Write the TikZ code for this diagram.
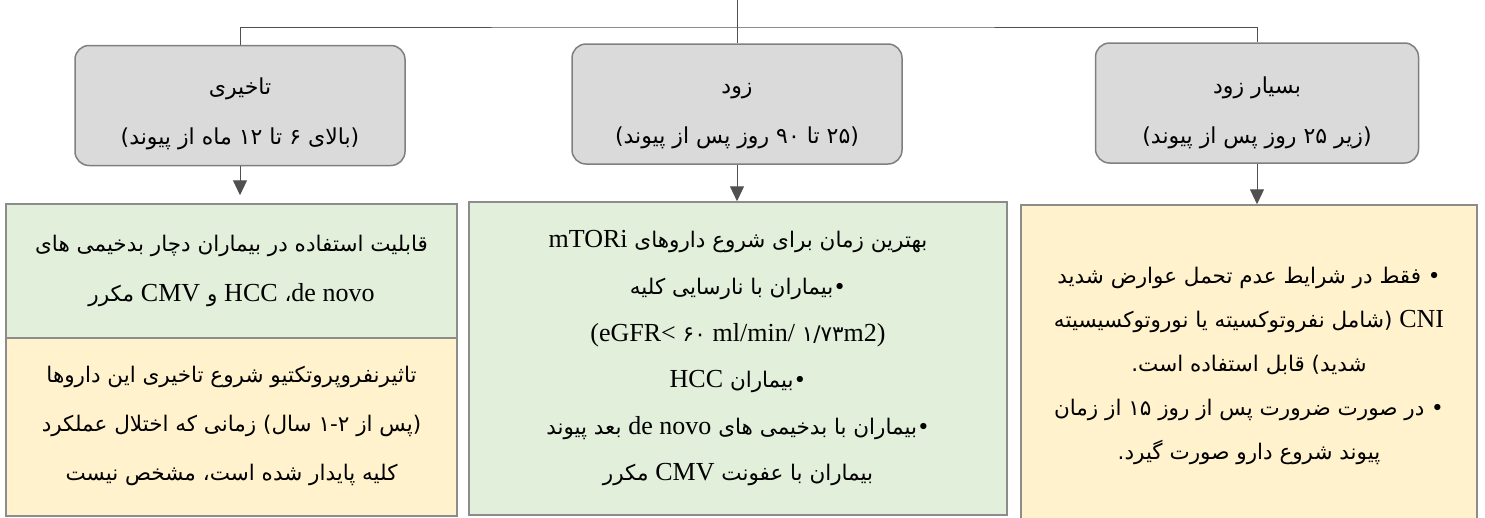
\documentclass[tikz,border=0pt]{standalone}
\usepackage{fontspec}
\setmainfont{Liberation Serif}
\newfontfamily\fa[Script=Arabic]{DejaVu Sans}
\newfontfamily\la{Liberation Serif}
\TeXXeTstate=1
\usetikzlibrary{arrows.meta}
\definecolor{grayfill}{HTML}{DADADA}
\definecolor{grayedge}{HTML}{7F7F7F}
\definecolor{greenfill}{HTML}{E2EFDA}
\definecolor{orangefill}{HTML}{FFF2CC}
\definecolor{boxedge}{HTML}{8C8C8C}
\definecolor{linecol}{HTML}{505050}
\newcommand\latsz{\la\fontsize{26}{26}\selectfont}
\newcommand\lat[1]{\beginL{\latsz #1}\endL}
\tikzset{
  phase/.style={draw=grayedge, fill=grayfill, line width=1.5pt, rounded corners=14pt,
    minimum width=330pt, minimum height=120pt},
  phasetext/.style={align=center, inner sep=0pt, font=\fa\fontsize{22}{50}\selectfont},
  infobox/.style={draw=boxedge, line width=1.5pt, align=center, inner sep=0pt},
  greenbox/.style={infobox, fill=greenfill},
  orangebox/.style={infobox, fill=orangefill},
  conn/.style={draw=linecol, line width=1pt},
  arr/.style={conn, -{Triangle[width=14pt,length=15pt]}, color=linecol},
}
\begin{document}
\begin{tikzpicture}[x=1pt,y=-1pt]
\useasboundingbox (0,0) rectangle (1485,517);
% phase boxes
\node[phase] (g3) at (240,105.5) {};
\node[phase] (g2) at (737,104) {};
\node[phase, minimum width=323pt] (g1) at (1257,103) {};
\node[phasetext] (t3) at (240,114) {\beginR تاخیری\endR\\\beginR(بالای ۶ تا ۱۲ ماه از پیوند)\endR};
\node[phasetext] (t2) at (737,116) {\beginR زود\endR\\\beginR(۲۵ تا ۹۰ روز پس از پیوند)\endR};
\node[phasetext] (t1) at (1257,113) {\beginR بسیار زود\endR\\\beginR(زیر ۲۵ روز پس از پیوند)\endR};
% detail boxes
\node[greenbox, minimum width=451pt, minimum height=134pt,
  font=\fa\fontsize{21.5}{50}\selectfont] (lg) at (231.5,271)
  {\beginR قابلیت استفاده در بیماران دچار بدخیمی های\endR\\
   \beginR\lat{de novo}، \lat{HCC} و \lat{CMV} مکرر\endR};
\node[orangebox, minimum width=451pt, minimum height=178pt,
  font=\fa\fontsize{21.5}{49}\selectfont] (lo) at (231.5,427)
  {\raisebox{7pt}{\beginR تاثیرنفروپروتکتیو شروع تاخیری این داروها\endR}\\
   \raisebox{7pt}{\beginR(پس از ۱-۲ سال) زمانی که اختلال عملکرد\endR}\\
   \raisebox{7pt}{\beginR کلیه پایدار شده است، مشخص نیست\endR}};
\node[greenbox, minimum width=538pt, minimum height=313pt,
  font=\fa\fontsize{21.5}{46.6}\selectfont] (mg) at (738,358.5)
  {\beginR بهترین زمان برای شروع داروهای \lat{mTORi}\endR\\
   \beginR •بیماران با نارسایی کلیه\endR\\
   {\latsz (eGFR<} ۶۰ {\latsz ml/min/} ۱/۷۳{\latsz m2)}\\
   \beginR •بیماران \lat{HCC}\endR\\
   \beginR •بیماران با بدخیمی های \lat{de novo} بعد پیوند\endR\\
   \beginR بیماران با عفونت \lat{CMV} مکرر\endR};
\node[orangebox, minimum width=456pt, minimum height=322pt,
  font=\fa\fontsize{21.5}{44}\selectfont] (ro) at (1249,366)
  {\beginR • فقط در شرایط عدم تحمل عوارض شدید\endR\\
   \beginR\lat{CNI} (شامل نفروتوکسیته یا نوروتوکسیسیته\endR\\
   \beginR شدید) قابل استفاده است.\endR\\
   \beginR • در صورت ضرورت پس از روز ۱۵ از زمان\endR\\
   \beginR پیوند شروع دارو صورت گیرد.\endR};
% connectors
\coordinate (top) at (737,0);
\coordinate (hub) at (737,27);
\draw[conn] (top) -- (g2.north);
\draw[conn] (g3.north) |- (hub) -| (g1.north);
\draw[arr, shorten >=8pt] (g3.south) -- (g3.south |- lg.north);
\draw[arr] (g2.south) -- (g2.south |- mg.north);
\draw[arr] (g1.south) -- (g1.south |- ro.north);
\end{tikzpicture}
\end{document}
